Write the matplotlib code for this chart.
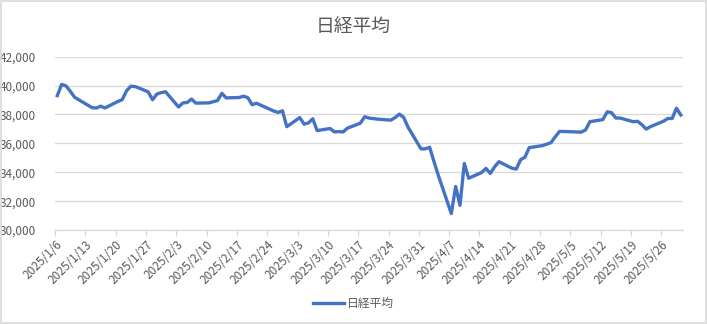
import numpy as np
import pandas as pd
import matplotlib
matplotlib.use("Agg")
import matplotlib.pyplot as plt
import matplotlib.dates as mdates
from matplotlib.patches import Rectangle

plt.rcParams['font.family'] = ['Noto Sans CJK JP', 'DejaVu Sans']

title = "日経平均"
series_name = "日経平均"

dates = [
    "2025-01-06", "2025-01-07", "2025-01-08", "2025-01-09", "2025-01-10",
    "2025-01-14", "2025-01-15", "2025-01-16", "2025-01-17",
    "2025-01-20", "2025-01-21", "2025-01-22", "2025-01-23", "2025-01-24",
    "2025-01-27", "2025-01-28", "2025-01-29", "2025-01-30", "2025-01-31",
    "2025-02-03", "2025-02-04", "2025-02-05", "2025-02-06", "2025-02-07",
    "2025-02-10", "2025-02-12", "2025-02-13", "2025-02-14",
    "2025-02-17", "2025-02-18", "2025-02-19", "2025-02-20", "2025-02-21",
    "2025-02-25", "2025-02-26", "2025-02-27", "2025-02-28",
    "2025-03-03", "2025-03-04", "2025-03-05", "2025-03-06", "2025-03-07",
    "2025-03-10", "2025-03-11", "2025-03-12", "2025-03-13", "2025-03-14",
    "2025-03-17", "2025-03-18", "2025-03-19", "2025-03-21",
    "2025-03-24", "2025-03-25", "2025-03-26", "2025-03-27", "2025-03-28",
    "2025-03-31", "2025-04-01", "2025-04-02", "2025-04-03", "2025-04-04",
    "2025-04-07", "2025-04-08", "2025-04-09", "2025-04-10", "2025-04-11",
    "2025-04-14", "2025-04-15", "2025-04-16", "2025-04-17", "2025-04-18",
    "2025-04-21", "2025-04-22", "2025-04-23", "2025-04-24", "2025-04-25",
    "2025-04-28", "2025-04-30", "2025-05-01", "2025-05-02",
    "2025-05-07", "2025-05-08", "2025-05-09",
    "2025-05-12", "2025-05-13", "2025-05-14", "2025-05-15", "2025-05-16",
    "2025-05-19", "2025-05-20", "2025-05-21", "2025-05-22", "2025-05-23",
    "2025-05-26", "2025-05-27", "2025-05-28", "2025-05-29", "2025-05-30",
]

closes = [
    39307, 40083, 39981, 39605, 39190,
    38474, 38445, 38573, 38451,
    38903, 39028, 39646, 39959, 39932,
    39566, 39017, 39415, 39514, 39572,
    38520, 38798, 38831, 39067, 38787,
    38801, 38964, 39461, 39149,
    39174, 39270, 39165, 38678, 38777,
    38238, 38142, 38256, 37156,
    37785, 37331, 37418, 37705, 36887,
    37028, 36793, 36819, 36790, 37053,
    37397, 37845, 37752, 37677,
    37608, 37781, 38027, 37800, 37120,
    35618, 35624, 35726, 34736, 33781,
    31137, 33013, 31714, 34609, 33586,
    33982, 34268, 33920, 34378, 34730,
    34280, 34221, 34869, 35039, 35706,
    35840, 36045, 36452, 36831,
    36780, 36929, 37503,
    37644, 38183, 38128, 37756, 37754,
    37499, 37529, 37299, 36986, 37160,
    37532, 37724, 37722, 38433, 37965,
]

tick_dates = pd.date_range("2025-01-06", "2025-05-26", freq="7D")
tick_labels = [f"{d.year}/{d.month}/{d.day}" for d in tick_dates]

x = mdates.date2num(pd.to_datetime(dates)) + 0.5

fig = plt.figure(figsize=(7.07, 3.24), dpi=100)
ax = fig.add_axes([0.078, 0.290, 0.888, 0.535])

line, = ax.plot(x, closes, color="#4472C4", linewidth=2.4, solid_joinstyle="round",
                label=series_name, zorder=3)

ax.set_xlim(mdates.date2num(pd.Timestamp("2025-01-06")),
            mdates.date2num(pd.Timestamp("2025-05-31")))
ax.set_ylim(30000, 42000)
ax.set_yticks(np.arange(30000, 42001, 2000))
ax.yaxis.set_major_formatter(matplotlib.ticker.FuncFormatter(lambda v, p: f"{int(v):,}"))
ax.grid(axis="y", color="#D9D9D9", linewidth=0.9, zorder=0)

ax.set_xticks(mdates.date2num(tick_dates))
ax.set_xticklabels(tick_labels, rotation=45, ha="right", va="top", rotation_mode="anchor")

for s in ["top", "right", "left"]:
    ax.spines[s].set_visible(False)
ax.spines["bottom"].set_color("#D9D9D9")
ax.spines["bottom"].set_linewidth(0.9)
ax.tick_params(axis="x", colors="#595959", labelsize=8.5, length=4, width=0.9,
               color="#D9D9D9", pad=2)
ax.tick_params(axis="y", colors="#595959", labelsize=8.5, length=0, pad=14)

fig.text(0.5, 0.915, title, ha="center", va="center", fontsize=13.5, color="#595959")

fig.legend(handles=[line], loc="center", bbox_to_anchor=(0.5, 0.062), frameon=False,
           fontsize=8.5, labelcolor="#595959", handlelength=2.6, handletextpad=0.3)

fig.patches.append(Rectangle((0.001, 0.002), 0.997, 0.995, transform=fig.transFigure,
                             fill=False, edgecolor="#D9D9D9", linewidth=1.2))

fig.savefig("out.png", dpi=100)
